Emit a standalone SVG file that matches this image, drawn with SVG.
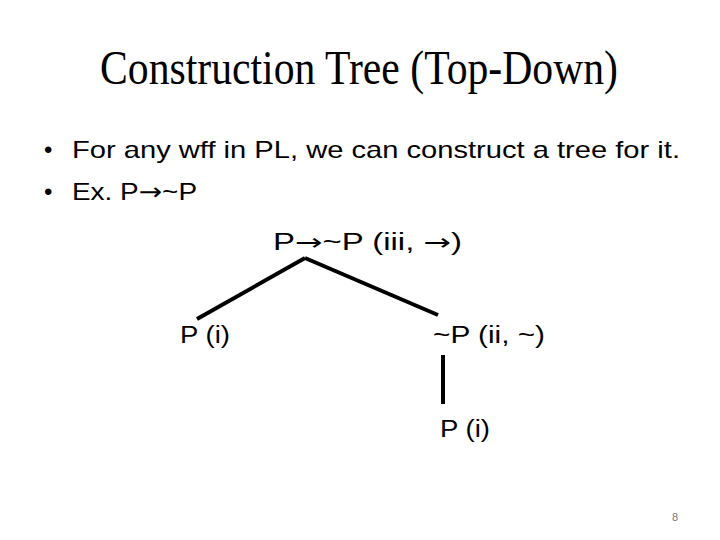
<svg xmlns="http://www.w3.org/2000/svg" width="720" height="540" viewBox="0 0 720 540">
<style>
.title{font-family:"Liberation Serif","DejaVu Serif",serif;font-size:48px;fill:#000}
.body{font-family:"Liberation Sans","DejaVu Sans",sans-serif;font-size:24px;fill:#000}
.node{font-family:"Liberation Sans","DejaVu Sans",sans-serif;font-size:23px;fill:#000}
.ar{font-family:"DejaVu Sans",sans-serif}
.edge{stroke:#000;stroke-width:4;fill:none}
.pg{font-family:"Liberation Sans",sans-serif;font-size:11px;fill:#777}
</style>
<rect width="720" height="540" fill="#fff"/>
<text class="title" x="100" y="84" textLength="518" lengthAdjust="spacingAndGlyphs">Construction Tree (Top-Down)</text>
<text class="body" x="44" y="158">•</text>
<text class="body" x="72" y="158" textLength="608" lengthAdjust="spacingAndGlyphs">For any wff in PL, we can construct a tree for it.</text>
<text class="body" x="44" y="200">•</text>
<text class="body" x="72" y="200" textLength="125" lengthAdjust="spacingAndGlyphs">Ex. P<tspan class="ar">→</tspan>~P</text>
<g id="connectors">
<line class="edge" x1="305" y1="258" x2="197" y2="319"/>
<line class="edge" x1="305" y1="258" x2="438" y2="315"/>
<line class="edge" x1="443" y1="355" x2="443" y2="404"/>
</g>
<g id="root"><text class="node" x="273" y="250" textLength="189" lengthAdjust="spacingAndGlyphs">P<tspan class="ar">→</tspan>~P (iii, <tspan class="ar">→</tspan>)</text></g>
<g id="left"><text class="node" x="180" y="343" textLength="50" lengthAdjust="spacingAndGlyphs">P (i)</text></g>
<g id="right"><text class="node" x="433" y="343" textLength="112" lengthAdjust="spacingAndGlyphs">~P (ii, ~)</text></g>
<g id="leaf"><text class="node" x="440" y="437" textLength="50" lengthAdjust="spacingAndGlyphs">P (i)</text></g>
<text class="pg" x="672" y="521">8</text>
</svg>
